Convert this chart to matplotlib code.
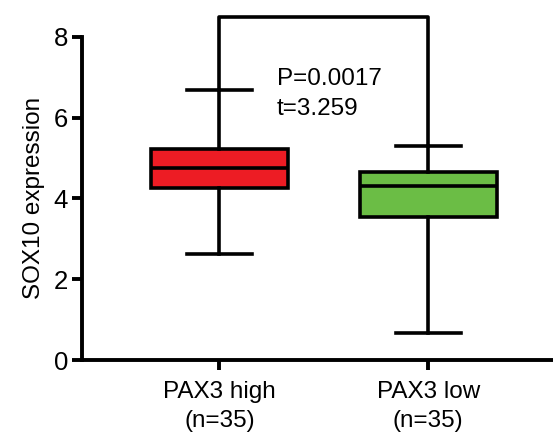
"""Boîtes à moustaches SOX10 selon PAX3"""
import matplotlib
matplotlib.use("Agg")
import matplotlib.pyplot as plt

plt.rcParams['font.family'] = ['Liberation Sans', 'DejaVu Sans']

# Données
groups = ["PAX3 high\n(n=35)", "PAX3 low\n(n=35)"]
whislo = [2.62, 0.66]
q1 = [4.25, 3.55]
med = [4.74, 4.31]
q3 = [5.22, 4.66]
whishi = [6.68, 5.30]
colors = ["#ED1C24", "#6BBD45"]
stat_lines = ["P=0.0017", "t=3.259"]
stat_y = [6.8, 6.06]
bracket_y = 8.48

stats = []
for i, g in enumerate(groups):
    stats.append(dict(label=g, whislo=whislo[i], q1=q1[i], med=med[i],
                      q3=q3[i], whishi=whishi[i], fliers=[]))

fig = plt.figure(figsize=(5.53, 4.34), dpi=100)
ax = fig.add_axes([0.148, 0.1705, 0.852, 0.7449])

lw = 2.6
line_kw = dict(color="black", linewidth=lw)
bp = ax.bxp(stats, positions=[1, 2], widths=0.655, patch_artist=True,
            showfliers=False, boxprops=dict(edgecolor="black", linewidth=lw),
            medianprops=line_kw, whiskerprops=line_kw, capprops=line_kw,
            capwidths=0.31)
for patch, c in zip(bp["boxes"], colors):
    patch.set_facecolor(c)

# Crochet de comparaison
ax.plot([1, 1, 2, 2], [whishi[0], bracket_y, bracket_y, whishi[1]],
        color="black", linewidth=lw, clip_on=False)
for txt, yy in zip(stat_lines, stat_y):
    ax.text(1.276, yy, txt, fontsize=17.5, va="baseline", ha="left")

ax.set_xlim(0.342, 2.597)
ax.set_ylim(0, 8)
ax.set_yticks([0, 2, 4, 6, 8])
ax.set_ylabel("SOX10 expression", fontsize=17.5, labelpad=6)

for s in ["top", "right"]:
    ax.spines[s].set_visible(False)
for s in ["left", "bottom"]:
    ax.spines[s].set_linewidth(2.8)
ax.tick_params(axis="y", labelsize=18.5, width=2.8, length=7, pad=3)
ax.tick_params(axis="x", labelsize=17.5, width=2.8, length=7, pad=8)
for lab in ax.get_xticklabels():
    lab.set_linespacing(1.4)

fig.savefig("out.png", dpi=100)
